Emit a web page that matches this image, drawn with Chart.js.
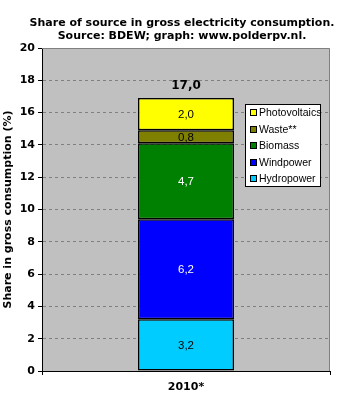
<!DOCTYPE html>
<html><head><meta charset="utf-8">
<script src="https://cdn.jsdelivr.net/npm/chart.js@4"></script>
<style>html,body{margin:0;padding:0;background:#fff}#wrap{width:361px;height:401px}</style>
</head><body><div id="wrap"><canvas id="c" width="361" height="401"></canvas></div>
<script>
const categories = ["2010*"];
const seriesNames = ["Hydropower", "Windpower", "Biomass", "Waste**", "Photovoltaics"];
const hydropower = [3.2];
const windpower = [6.2];
const biomass = [4.7];
const waste = [0.8];
const photovoltaics = [2.0];
const totalLabels = ["17,0"];
const yTicks = [0, 2, 4, 6, 8, 10, 12, 14, 16, 18, 20];
const titleLines = ["Share of source in gross electricity consumption.", "Source: BDEW; graph: www.polderpv.nl."];
const yTitle = "Share in gross consumption (%)";

const colors = ["#00CCFF", "#0000FF", "#008000", "#808000", "#FFFF00"];
const labelColors = ["#000", "#fff", "#fff", "#000", "#000"];
const values = [hydropower, windpower, biomass, waste, photovoltaics];
const FONT = "'DejaVu Sans', Verdana, sans-serif";
const SFONT = "'Liberation Sans', Arial, sans-serif";

const fmt = v => v.toFixed(1).replace('.', ',');

const plotPlugin = {
  id: 'plotDecor',
  beforeDraw(chart) {
    const {ctx, chartArea: a} = chart;
    ctx.save();
    ctx.fillStyle = '#C0C0C0';
    ctx.fillRect(a.left, a.top, a.right - a.left, a.bottom - a.top);
    ctx.restore();
  },
  afterDatasetsDraw(chart) {
    const {ctx, chartArea: a} = chart;
    ctx.save();
    ctx.strokeStyle = '#808080';
    ctx.lineWidth = 1;
    ctx.beginPath();
    ctx.moveTo(a.left, Math.round(a.top) + 0.5);
    ctx.lineTo(Math.round(a.right) - 0.5, Math.round(a.top) + 0.5);
    ctx.lineTo(Math.round(a.right) - 0.5, a.bottom);
    ctx.stroke();
    ctx.font = "11.5px " + SFONT;
    ctx.textAlign = 'center';
    ctx.textBaseline = 'middle';
    chart.data.datasets.forEach((ds, i) => {
      const meta = chart.getDatasetMeta(i);
      meta.data.forEach((bar, j) => {
        const cy = (bar.y + bar.base) / 2;
        ctx.fillStyle = labelColors[i];
        ctx.fillText(fmt(ds.data[j]), bar.x, cy + 1);
      });
    });
    const lastMeta = chart.getDatasetMeta(chart.data.datasets.length - 1);
    ctx.font = "bold 12px " + FONT;
    ctx.fillStyle = '#000';
    lastMeta.data.forEach((bar, j) => {
      ctx.fillText(totalLabels[j], bar.x, bar.y - 12);
    });
    const lx = 245, ly = 104, lw = 76, lh = 83;
    ctx.fillStyle = '#fff';
    ctx.fillRect(lx, ly, lw, lh);
    ctx.strokeStyle = '#000';
    ctx.strokeRect(lx + 0.5, ly + 0.5, lw - 1, lh - 1);
    ctx.font = "10.5px " + SFONT;
    ctx.textAlign = 'left';
    const n = chart.data.datasets.length;
    for (let k = 0; k < n; k++) {
      const idx = n - 1 - k;
      const ds = chart.data.datasets[idx];
      const y = Math.round(ly + 9 + k * 16.5);
      ctx.fillStyle = ds.backgroundColor;
      ctx.fillRect(lx + 5, y - 3, 6, 6);
      ctx.strokeStyle = '#000';
      ctx.strokeRect(lx + 5.5, y - 3.5, 6, 6);
      ctx.fillStyle = '#000';
      ctx.fillText(ds.label, lx + 14, y + 0.5);
    }
    ctx.restore();
  },
  afterDraw(chart) {
    const {ctx} = chart;
    ctx.save();
    ctx.font = "bold 11px " + FONT;
    ctx.fillStyle = '#000';
    ctx.textAlign = 'center';
    ctx.textBaseline = 'middle';
    ctx.fillText(titleLines[0], 182, 23);
    ctx.fillText(titleLines[1], 182, 36);
    ctx.restore();
  }
};

new Chart(document.getElementById('c'), {
  type: 'bar',
  data: {
    labels: categories,
    datasets: values.map((v, i) => ({
      label: seriesNames[i],
      data: v,
      backgroundColor: colors[i],
      borderColor: '#000',
      borderWidth: 1.5,
      borderSkipped: false,
      barPercentage: 1,
      categoryPercentage: 1 / 3
    }))
  },
  options: {
    responsive: false,
    animation: false,
    devicePixelRatio: 1,
    layout: { padding: { top: 48, right: 31, left: 0, bottom: 0 } },
    plugins: { legend: { display: false }, tooltip: { enabled: false }, title: { display: false } },
    scales: {
      x: {
        stacked: true,
        grid: { display: true, drawOnChartArea: false, drawTicks: true, tickLength: 4, tickColor: '#000', offset: true },
        border: { display: true, color: '#000', width: 1 },
        ticks: { color: '#000', font: { family: FONT, size: 11, weight: 'bold' }, padding: 6 },
        afterFit(s) { s.height = 30; }
      },
      y: {
        stacked: true,
        min: 0, max: 20,
        afterBuildTicks(s) { s.ticks = yTicks.map(v => ({ value: v })); },
        grid: {
          color: ctx => (ctx.tick && (ctx.tick.value === 0 || ctx.tick.value === 20)) ? 'rgba(0,0,0,0)' : '#808080',
          tickColor: '#000',
          tickLength: 4,
          tickBorderDash: [],
          drawTicks: true
        },
        border: { display: true, color: '#000', width: 1, dash: [3, 3] },
        ticks: { color: '#000', font: { family: FONT, size: 11, weight: 'bold' }, padding: 3 },
        title: { display: true, text: yTitle, color: '#000', font: { family: FONT, size: 11, weight: 'bold' }, padding: { top: 2, bottom: 2 } },
        afterFit(s) { s.width = 42; }
      }
    }
  },
  plugins: [plotPlugin]
});
</script>
</body></html>
